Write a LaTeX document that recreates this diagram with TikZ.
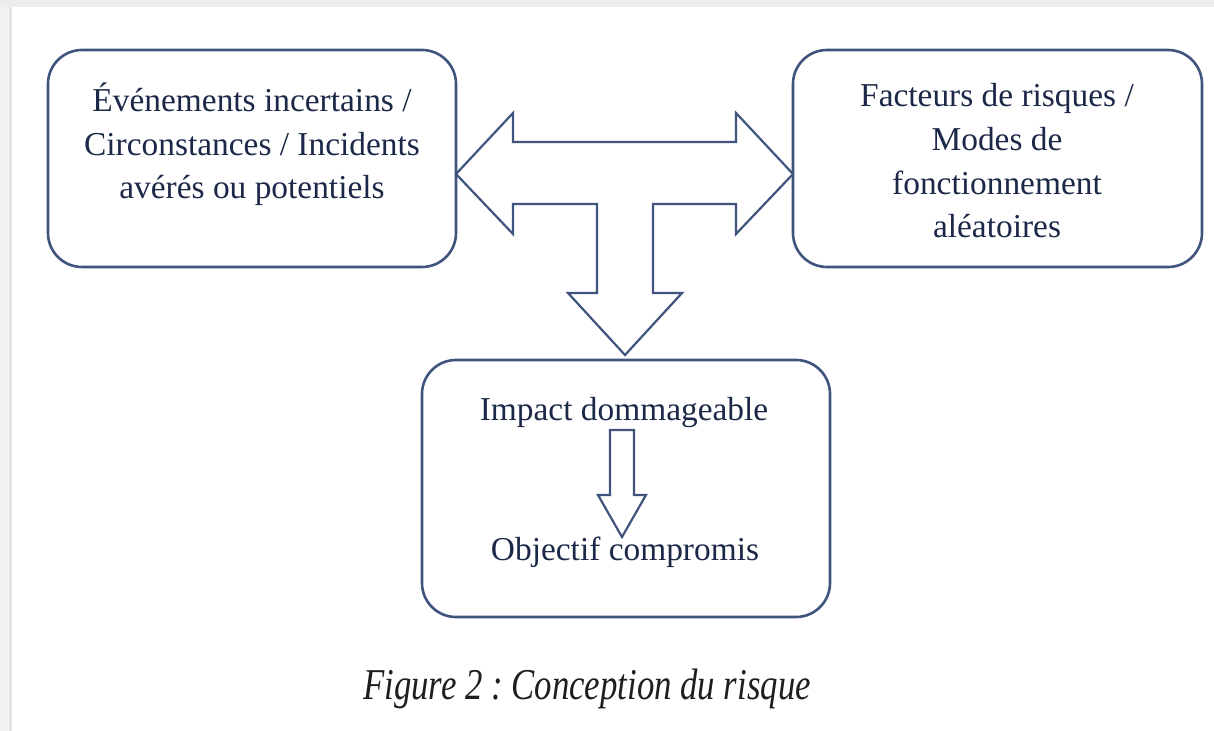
\documentclass[tikz,border=0pt]{standalone}
\usepackage{fontspec}
\setmainfont{Liberation Serif}
\newfontfamily\captionfamily[FakeStretch=0.79]{Liberation Serif}

\definecolor{frameblue}{RGB}{64,84,126}
\definecolor{inkblue}{RGB}{28,40,72}
\definecolor{captionink}{RGB}{30,30,30}
\definecolor{bandgray}{RGB}{236,236,236}
\definecolor{sidegray}{RGB}{242,242,242}
\definecolor{sideedge}{RGB}{228,228,228}

\begin{document}
\frenchspacing
\begin{tikzpicture}[
  x=0.5pt, y=-0.5pt,
  riskbox/.style={draw=frameblue, line width=1.3pt, rounded corners=17pt,
    inner sep=0pt},
  boxtext/.style={text=inkblue, anchor=base, inner sep=0pt,
    font=\fontsize{16.7}{20}\selectfont},
  hollowarrow/.style={draw=frameblue, line width=1.1pt, line join=miter,
    fill=white},
  captiontext/.style={text=captionink, anchor=base, inner sep=0pt,
    font=\captionfamily\fontsize{22}{26}\selectfont\itshape}
]
\useasboundingbox (0,0) rectangle (1214,731);

% page background with the grey margin bands
\fill[white] (0,0) rectangle (1214,731);
\fill[bandgray] (0,0) rectangle (1214,7);
\fill[sidegray] (0,7) rectangle (10,731);
\fill[sideedge] (9,7) rectangle (12,731);

% the three boxes
\node[riskbox, minimum width=204pt, minimum height=108.5pt] (events) at (252,158.5) {};
\node[riskbox, minimum width=204.5pt, minimum height=108.5pt] (factors) at (997.5,158.5) {};
\node[riskbox, minimum width=204pt, minimum height=128.5pt] (impact) at (626,488.5) {};

% box texts, one node per line
\node[boxtext] (ev1) at (252,112) {Événements incertains /};
\node[boxtext] (ev2) at (252,155.5) {Circonstances / Incidents};
\node[boxtext] (ev3) at (252,199) {avérés ou potentiels};

\node[boxtext] (fa1) at (997,107) {Facteurs de risques /};
\node[boxtext] (fa2) at (997,151) {Modes de};
\node[boxtext] (fa3) at (997,195) {fonctionnement};
\node[boxtext] (fa4) at (997,238) {aléatoires};

\node[boxtext] (im1) at (624,421) {Impact dommageable};
\node[boxtext] (im2) at (625,560) {Objectif compromis};

% T-shaped double arrow between the top boxes, pointing down to the impact box
\draw[hollowarrow]
  (456,174) -- (513,113) -- (513,142) -- (736,142) -- (736,113) -- (793,174)
  -- (736,234) -- (736,204) -- (653,204) -- (653,293) -- (682,293)
  -- (625,355) -- (568,293) -- (597,293) -- (597,204) -- (513,204)
  -- (513,234) -- cycle;

% small down arrow inside the impact box
\draw[hollowarrow]
  (610,430) -- (634,430) -- (634,495) -- (646,495) -- (622,537)
  -- (598,495) -- (610,495) -- cycle;

% caption
\node[captiontext] (caption) at (587,699) {Figure 2 : Conception du risque};
\end{tikzpicture}
\end{document}
